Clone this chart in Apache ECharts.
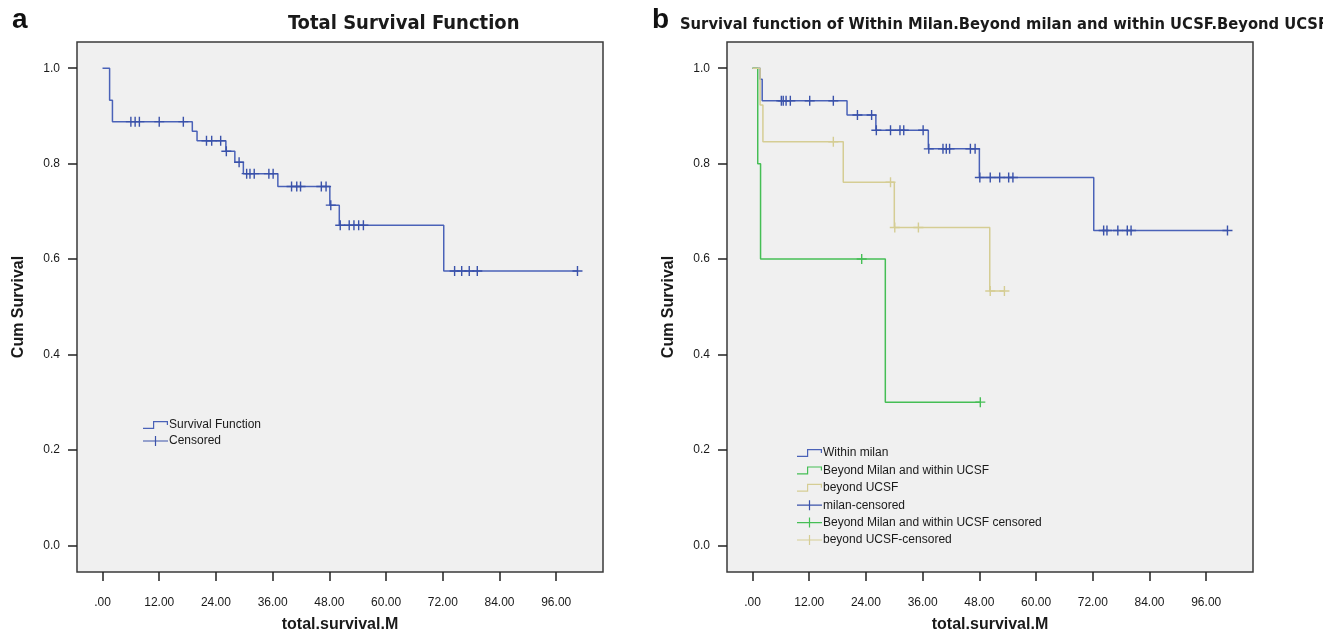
<!DOCTYPE html>
<html>
<head>
<meta charset="utf-8">
<script src="https://cdn.jsdelivr.net/npm/echarts@6/dist/echarts.min.js"></script>
<style>
html,body{margin:0;padding:0;background:#fff;}
#c{width:1323px;height:632px;}
</style>
</head>
<body>
<div id="c"></div>
<script>
// ---------- DATA ----------
const xTicks = [0, 12, 24, 36, 48, 60, 72, 84, 96];
const yTicks = [0, 0.2, 0.4, 0.6, 0.8, 1.0];

// Panel a: total survival (event times / survival after event)
const totalTimes = [0, 1.5, 2.1, 19.0, 20.0, 26.1, 28.0, 29.8, 37.1, 48.1, 50.1, 72.2, 100.5];
const totalSurv  = [1.0, 0.933, 0.888, 0.868, 0.848, 0.826, 0.803, 0.779, 0.752, 0.713, 0.671, 0.575, 0.575];
const totalCensT = [6.0, 6.9, 7.8, 12.0, 17.1, 22.0, 23.1, 25.0, 26.2, 28.9, 30.5, 31.2, 32.1, 35.2, 36.1, 40.0, 41.1, 41.9, 46.3, 47.3, 48.3, 50.3, 52.2, 53.2, 54.2, 55.2, 74.5, 76.0, 77.6, 79.3, 100.5];
const totalCensS = [0.888, 0.888, 0.888, 0.888, 0.888, 0.848, 0.848, 0.848, 0.826, 0.803, 0.779, 0.779, 0.779, 0.779, 0.779, 0.752, 0.752, 0.752, 0.752, 0.752, 0.713, 0.671, 0.671, 0.671, 0.671, 0.671, 0.575, 0.575, 0.575, 0.575, 0.575];

// Panel b: within Milan
const milanTimes = [0, 1.6, 2.05, 20.0, 26.1, 37.2, 48.0, 72.2, 100.5];
const milanSurv  = [1.0, 0.977, 0.932, 0.902, 0.870, 0.831, 0.771, 0.660, 0.660];
const milanCensT = [6.1, 6.5, 7.1, 8.0, 12.1, 17.1, 22.2, 25.2, 26.2, 29.2, 31.2, 32.0, 36.1, 37.3, 40.3, 41.0, 41.7, 46.1, 47.1, 48.1, 50.3, 52.3, 54.2, 55.1, 74.3, 75.0, 77.3, 79.3, 80.1, 100.5];
const milanCensS = [0.932, 0.932, 0.932, 0.932, 0.932, 0.932, 0.902, 0.902, 0.870, 0.870, 0.870, 0.870, 0.870, 0.831, 0.831, 0.831, 0.831, 0.831, 0.831, 0.771, 0.771, 0.771, 0.771, 0.771, 0.660, 0.660, 0.660, 0.660, 0.660, 0.660];

// Panel b: beyond Milan and within UCSF
const ucsfInTimes = [0, 1.1, 1.7, 28.1, 48.2];
const ucsfInSurv  = [1.0, 0.8, 0.6, 0.3, 0.3];
const ucsfInCensT = [23.1, 48.2];
const ucsfInCensS = [0.6, 0.3];

// Panel b: beyond UCSF
const ucsfOutTimes = [0, 1.6, 2.2, 19.2, 30.0, 50.2, 53.3];
const ucsfOutSurv  = [1.0, 0.923, 0.846, 0.761, 0.666, 0.533, 0.533];
const ucsfOutCensT = [17.1, 29.2, 30.1, 35.1, 50.3, 53.3];
const ucsfOutCensS = [0.846, 0.761, 0.666, 0.666, 0.533, 0.533];

// ---------- STYLE ----------
const BLUE = '#4A62B8', BLUE_C = '#3A52AA', GREEN = '#45BE55', KHAKI = '#D5CD94';
const TXT = '#1a1a1a';
const FONT = '"Liberation Sans", Arial, sans-serif';
const NARROW = '"Liberation Sans Narrow", "DejaVu Sans Condensed", "Liberation Sans", sans-serif';

const stepIcon = 'path://M0,7.8 h11 v1.2 h-11 z M10,1 h1.2 v8 h-1.2 z M10,1 h15 v1.2 h-15 z M23.8,1 h1.2 v4 h-1.2 z';
const censIcon = 'path://M0,4.4 h25 v1.2 h-25 z M11.9,0 h1.2 v10 h-1.2 z';
const plusSym  = 'path://M4.3,0 h1.4 v10 h-1.4 z M0,4.3 h10 v1.4 h-10 z';

function pairs(t, s) { return t.map((v, i) => [v, s[i]]); }

function xAxis(gi) {
  return {
    type: 'value', gridIndex: gi, min: -5.4, max: 105.9,
    name: 'total.survival.M', nameLocation: 'middle', nameGap: 45,
    nameTextStyle: { fontFamily: FONT, fontWeight: 'bold', fontSize: 16, color: TXT },
    axisLine: { show: false, onZero: false },
    axisTick: { show: true, inside: false, length: 9, customValues: xTicks, lineStyle: { color: '#222', width: 1.5 } },
    axisLabel: { customValues: xTicks, margin: 25, fontFamily: FONT, fontSize: 12, color: TXT,
      formatter: v => v === 0 ? '.00' : v.toFixed(2) },
    splitLine: { show: false }
  };
}
function yAxis(gi) {
  return {
    type: 'value', gridIndex: gi, min: -0.056, max: 1.055,
    name: 'Cum Survival', nameLocation: 'middle', nameGap: 50,
    nameTextStyle: { fontFamily: FONT, fontWeight: 'bold', fontSize: 16, color: TXT },
    axisLine: { show: false, onZero: false },
    axisTick: { show: true, inside: false, length: 9, customValues: yTicks, lineStyle: { color: '#222', width: 1.5 } },
    axisLabel: { customValues: yTicks, margin: 17, fontFamily: FONT, fontSize: 12, color: TXT,
      formatter: v => v.toFixed(1) },
    splitLine: { show: false }
  };
}
function stepSeries(name, gi, t, s, color) {
  return { name, type: 'line', xAxisIndex: gi, yAxisIndex: gi, step: 'end', data: pairs(t, s),
    showSymbol: false, symbol: 'none', lineStyle: { color, width: 1.5 }, itemStyle: { color }, z: 2 };
}
function censSeries(name, gi, t, s, color) {
  return { name, type: 'scatter', xAxisIndex: gi, yAxisIndex: gi, data: pairs(t, s),
    symbol: plusSym, symbolSize: [10, 10], itemStyle: { color, opacity: 1 }, z: 3 };
}

const chart = echarts.init(document.getElementById('c'), null, { renderer: 'canvas' });
chart.setOption({
  animation: false,
  backgroundColor: '#ffffff',
  grid: [
    { left: 77, top: 42, right: 720, bottom: 60, containLabel: false, outerBoundsMode: 'none', show: true, backgroundColor: '#F0F0F0', borderColor: '#3a3a3a', borderWidth: 1.5 },
    { left: 727, top: 42, right: 70, bottom: 60, containLabel: false, outerBoundsMode: 'none', show: true, backgroundColor: '#F0F0F0', borderColor: '#3a3a3a', borderWidth: 1.5 }
  ],
  xAxis: [xAxis(0), xAxis(1)],
  yAxis: [yAxis(0), yAxis(1)],
  legend: [
    { left: 143, top: 419, padding: 0, orient: 'vertical', itemWidth: 25, itemHeight: 10, itemGap: 4,
      textStyle: { fontFamily: FONT, fontSize: 12, color: TXT, padding: [0, 0, 0, -4] }, selectedMode: false,
      data: [ { name: 'Survival Function', icon: stepIcon }, { name: 'Censored', icon: censIcon } ] },
    { left: 797, top: 447, padding: 0, orient: 'vertical', itemWidth: 25, itemHeight: 10, itemGap: 5.4,
      textStyle: { fontFamily: FONT, fontSize: 12, color: TXT, padding: [0, 0, 0, -4] }, selectedMode: false,
      data: [
        { name: 'Within milan', icon: stepIcon },
        { name: 'Beyond Milan and within UCSF', icon: stepIcon },
        { name: 'beyond UCSF', icon: stepIcon },
        { name: 'milan-censored', icon: censIcon },
        { name: 'Beyond Milan and within UCSF censored', icon: censIcon },
        { name: 'beyond UCSF-censored', icon: censIcon }
      ] }
  ],
  graphic: [
    { type: 'text', left: 12, top: 6, style: { text: 'a', fontFamily: FONT, fontWeight: 'bold', fontSize: 28, fill: '#111' } },
    { type: 'text', left: 652, top: 6, style: { text: 'b', fontFamily: FONT, fontWeight: 'bold', fontSize: 28, fill: '#111' } },
    { type: 'text', left: 288, top: 14, style: { text: 'Total Survival Function', fontFamily: NARROW, fontWeight: 'bold', fontSize: 20, fill: TXT } },
    { type: 'text', left: 680, top: 17, style: { text: 'Survival function of Within Milan.Beyond milan and within UCSF.Beyond UCSF', fontFamily: NARROW, fontWeight: 'bold', fontSize: 16.4, fill: TXT } }
  ],
  series: [
    stepSeries('Survival Function', 0, totalTimes, totalSurv, BLUE),
    censSeries('Censored', 0, totalCensT, totalCensS, BLUE_C),
    stepSeries('Within milan', 1, milanTimes, milanSurv, BLUE),
    stepSeries('Beyond Milan and within UCSF', 1, ucsfInTimes, ucsfInSurv, GREEN),
    stepSeries('beyond UCSF', 1, ucsfOutTimes, ucsfOutSurv, KHAKI),
    censSeries('milan-censored', 1, milanCensT, milanCensS, BLUE_C),
    censSeries('Beyond Milan and within UCSF censored', 1, ucsfInCensT, ucsfInCensS, GREEN),
    censSeries('beyond UCSF-censored', 1, ucsfOutCensT, ucsfOutCensS, KHAKI)
  ]
});
</script>
</body>
</html>
